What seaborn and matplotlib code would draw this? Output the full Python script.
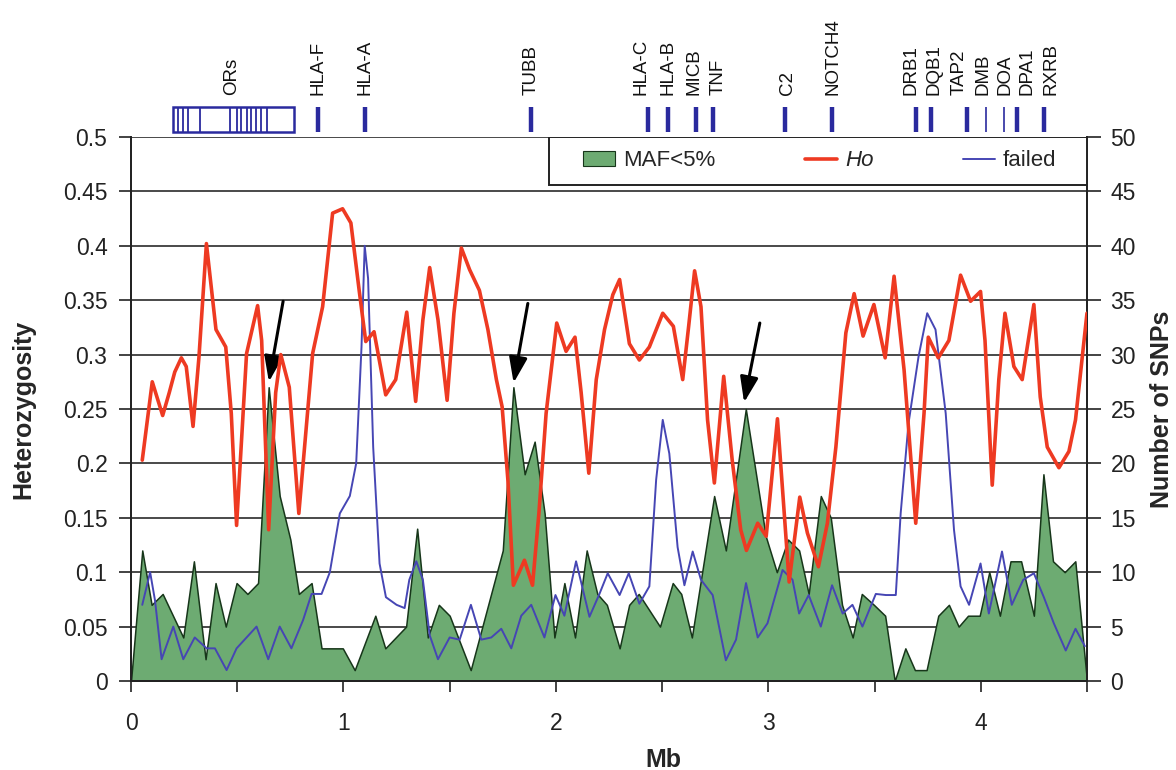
"""
Heterozygosity (Ho), low-MAF SNP counts and failed SNPs along the MHC region.
Left axis: Ho; right axis: number of SNPs. Gene positions are marked on top.
"""

import matplotlib

matplotlib.use("Agg")
import matplotlib.pyplot as plt
import seaborn as sns
from matplotlib.patches import Patch, Rectangle
from matplotlib.lines import Line2D

sns.set_style("ticks")
plt.rcParams["font.family"] = ["Liberation Sans", "DejaVu Sans"]

# ----------------------------------------------------------------------
# Data
# ----------------------------------------------------------------------
# MAF<5% SNP counts (right axis), vertices of the filled area
maf_mb = [0, 0.053, 0.097, 0.149, 0.246, 0.296, 0.351, 0.398, 0.446, 0.497,
          0.548, 0.598, 0.648, 0.70, 0.75, 0.79, 0.85, 0.897, 0.997, 1.053,
          1.15, 1.197, 1.295, 1.347, 1.397, 1.449, 1.50, 1.599, 1.75, 1.80,
          1.853, 1.90, 1.947, 1.993, 2.04, 2.09, 2.145, 2.195, 2.24, 2.30,
          2.345, 2.39, 2.44, 2.49, 2.55, 2.59, 2.64, 2.745, 2.80, 2.894,
          2.988, 3.04, 3.093, 3.145, 3.19, 3.247, 3.294, 3.347, 3.397, 3.44,
          3.497, 3.55, 3.595, 3.645, 3.69, 3.745, 3.80, 3.85, 3.896, 3.94,
          3.995, 4.04, 4.09, 4.14, 4.19, 4.25, 4.295, 4.34, 4.395, 4.445, 4.5]
maf_count = [0, 12, 7, 8, 4, 11, 2, 9, 5, 9,
             8, 9, 27, 17, 13, 8, 9, 3, 3, 1,
             6, 3, 5, 14, 4, 7, 6, 1, 12, 27,
             19, 22, 15.4, 4, 9, 4, 12, 8, 7, 3,
             7, 8, 6.5, 5, 9, 8, 4, 17, 12, 25,
             13.3, 10, 13, 12, 8, 17, 15, 7, 4, 8,
             7, 6, 0, 3, 1, 1, 6, 7, 5, 6,
             6, 10, 6, 11, 11, 6, 19, 11, 10, 11, 0]

# Observed heterozygosity Ho (left axis)
ho_mb = [0.053, 0.10, 0.149, 0.18, 0.206, 0.237, 0.26, 0.292, 0.32, 0.355,
         0.40, 0.446, 0.472, 0.497, 0.544, 0.596, 0.615, 0.648, 0.681, 0.705,
         0.745, 0.79, 0.855, 0.902, 0.949, 0.996, 1.035, 1.074, 1.105, 1.144,
         1.199, 1.246, 1.298, 1.34, 1.374, 1.406, 1.445, 1.488, 1.52, 1.555,
         1.594, 1.64, 1.68, 1.72, 1.747, 1.774, 1.80, 1.852, 1.89, 1.92,
         1.954, 2.004, 2.048, 2.09, 2.119, 2.155, 2.19, 2.229, 2.268, 2.30,
         2.346, 2.393, 2.44, 2.503, 2.553, 2.597, 2.625, 2.653, 2.683, 2.714,
         2.746, 2.79, 2.83, 2.87, 2.897, 2.95, 2.99, 3.043, 3.075, 3.098,
         3.148, 3.184, 3.236, 3.278, 3.318, 3.365, 3.404, 3.446, 3.497, 3.55,
         3.592, 3.639, 3.694, 3.733, 3.753, 3.80, 3.85, 3.905, 3.952, 3.999,
         4.02, 4.054, 4.085, 4.114, 4.156, 4.195, 4.25, 4.28, 4.313, 4.368,
         4.415, 4.446, 4.50]
ho_val = [0.203, 0.275, 0.244, 0.265, 0.284, 0.297, 0.289, 0.234, 0.298, 0.402,
          0.323, 0.307, 0.246, 0.143, 0.301, 0.345, 0.313, 0.139, 0.265, 0.300,
          0.270, 0.154, 0.301, 0.344, 0.430, 0.434, 0.421, 0.359, 0.312, 0.321,
          0.263, 0.277, 0.339, 0.257, 0.332, 0.380, 0.332, 0.258, 0.338, 0.398,
          0.378, 0.359, 0.323, 0.277, 0.252, 0.185, 0.088, 0.111, 0.088, 0.154,
          0.246, 0.329, 0.303, 0.316, 0.265, 0.191, 0.277, 0.323, 0.355, 0.369,
          0.310, 0.295, 0.307, 0.338, 0.326, 0.277, 0.326, 0.377, 0.344, 0.240,
          0.182, 0.280, 0.203, 0.139, 0.120, 0.145, 0.133, 0.241, 0.154, 0.091,
          0.169, 0.136, 0.105, 0.145, 0.215, 0.320, 0.356, 0.317, 0.346, 0.297,
          0.372, 0.286, 0.145, 0.246, 0.316, 0.297, 0.313, 0.373, 0.349, 0.358,
          0.313, 0.180, 0.277, 0.338, 0.289, 0.277, 0.346, 0.261, 0.215, 0.196,
          0.211, 0.240, 0.338]

# Failed SNPs (right axis)
failed_mb = [0.053, 0.09, 0.113, 0.144, 0.199, 0.246, 0.30, 0.356, 0.395, 0.45,
             0.497, 0.544, 0.591, 0.646, 0.70, 0.755, 0.81, 0.85, 0.897, 0.936,
             0.983, 1.03, 1.06, 1.085, 1.10, 1.116, 1.14, 1.17, 1.20, 1.25,
             1.288, 1.31, 1.343, 1.374, 1.406, 1.445, 1.50, 1.547, 1.60, 1.649,
             1.696, 1.743, 1.79, 1.837, 1.884, 1.946, 1.998, 2.04, 2.095, 2.158,
             2.205, 2.244, 2.30, 2.343, 2.393, 2.44, 2.472, 2.503, 2.534, 2.573,
             2.605, 2.644, 2.683, 2.738, 2.80, 2.848, 2.895, 2.95, 2.996, 3.067,
             3.114, 3.145, 3.19, 3.247, 3.30, 3.35, 3.396, 3.443, 3.506, 3.553,
             3.60, 3.623, 3.66, 3.707, 3.748, 3.787, 3.835, 3.874, 3.905, 3.945,
             3.999, 4.038, 4.10, 4.146, 4.20, 4.25, 4.297, 4.344, 4.40, 4.446,
             4.49]
failed_count = [7, 10, 7.4, 2, 5, 2, 4, 3, 3, 1,
                3, 4, 5, 2, 5, 3, 5.6, 8, 8, 10,
                15.4, 17, 20, 30.7, 40, 37, 21.5, 10.8, 7.7, 7,
                6.7, 9.3, 11, 9.3, 4.2, 2, 4, 3.8, 7, 3.8,
                4, 4.8, 3, 6, 7, 4, 7.9, 6, 11, 5.9,
                8, 9.9, 7.9, 9.9, 7.1, 8.7, 18.5, 24, 20.9, 12.3,
                8.8, 11.9, 9.3, 7.9, 1.9, 3.8, 9, 4, 5.3, 10.2,
                9.3, 6.2, 7.9, 5, 8.8, 6.2, 7, 5, 8, 7.9,
                7.9, 15.4, 23.7, 29.8, 33.8, 32.3, 24.6, 13.9, 8.7, 7,
                10.8, 6.2, 11.9, 7, 9.3, 9.9, 7.7, 5.3, 2.8, 4.8,
                3.2]

# Genes shown above the plot: marker position and label position (Mb)
gene_names = ["HLA-F", "HLA-A", "TUBB", "HLA-C", "HLA-B", "MICB", "TNF", "C2",
              "NOTCH4", "DRB1", "DQB1", "TAP2", "DMB", "DOA", "DPA1", "RXRB"]
gene_mb = [0.88, 1.10, 1.884, 2.432, 2.526, 2.66, 2.738, 3.08,
           3.30, 3.694, 3.764, 3.934, 4.026, 4.11, 4.17, 4.30]
gene_label_mb = [0.88, 1.10, 1.884, 2.40, 2.53, 2.65, 2.765, 3.09,
                 3.305, 3.67, 3.78, 3.90, 4.01, 4.115, 4.22, 4.33]
thin_genes = ["DMB", "DOA"]
ors_start, ors_end, ors_label_mb = 0.196, 0.766, 0.473
ors_lines = [0.222, 0.246, 0.27, 0.325, 0.466, 0.497, 0.52, 0.544,
             0.567, 0.59, 0.614, 0.638]

# Arrows pointing at the MAF<5% peaks (tail, head) in (Mb, Ho)
arrow_tails = [(0.716, 0.349), (1.868, 0.347), (2.96, 0.329)]
arrow_heads = [(0.649, 0.275), (1.801, 0.274), (2.886, 0.256)]

xticks = [0, 0.5, 1, 1.5, 2, 2.5, 3, 3.5, 4, 4.5]
ho_ticks = [0, 0.05, 0.1, 0.15, 0.2, 0.25, 0.3, 0.35, 0.4, 0.45, 0.5]
snp_ticks = [0, 5, 10, 15, 20, 25, 30, 35, 40, 45, 50]

GREEN = "#6dab72"
GREEN_EDGE = "#17361a"
RED = "#ee3a22"
BLUE = "#4646b4"
NAVY = "#2a2a9e"
INK = "#222222"

# ----------------------------------------------------------------------
# Figure
# ----------------------------------------------------------------------
fig = plt.figure(figsize=(11.76, 7.7), dpi=100)
ax = fig.add_axes([0.1114, 0.1156, 0.8129, 0.7065])   # counts (right axis)
ax2 = ax.twinx()                                        # Ho (left axis)

ax.set_axisbelow(True)
ax.fill_between(maf_mb, maf_count, 0, color=GREEN, edgecolor=GREEN_EDGE,
                lw=1.1, zorder=2)
sns.lineplot(x=failed_mb, y=failed_count, ax=ax, color=BLUE, lw=1.4,
             sort=False, errorbar=None, zorder=3)
sns.lineplot(x=ho_mb, y=ho_val, ax=ax2, color=RED, lw=2.6, sort=False,
             errorbar=None, solid_joinstyle="round", zorder=4)

for tail, head in zip(arrow_tails, arrow_heads):
    ax2.annotate("", xy=head, xytext=tail,
                 arrowprops=dict(arrowstyle="-|>,head_length=0.7,head_width=0.25",
                                 color="black", lw=2.2, mutation_scale=22,
                                 shrinkA=0, shrinkB=0))

# axes, ticks, grid
ax.set_xlim(0, 4.5)
ax.set_ylim(0, 50)
ax2.set_ylim(0, 0.5)
ax.set_xticks(xticks)
ax.set_xticklabels([f"{t:g}" if float(t).is_integer() else "" for t in xticks])
ax.set_yticks(snp_ticks)
ax2.set_yticks(ho_ticks)
ax2.set_yticklabels([f"{t:g}" for t in ho_ticks])
ax.grid(axis="y", color="#3a3a3a", lw=1.3)
ax.grid(axis="x", visible=False)

ax.yaxis.tick_right()
ax.yaxis.set_label_position("right")
ax2.yaxis.tick_left()
ax2.yaxis.set_label_position("left")

for a in (ax, ax2):
    a.spines["top"].set_visible(False)
    for s in ("left", "right", "bottom"):
        a.spines[s].set_color(INK)
        a.spines[s].set_linewidth(1.3)
ax.tick_params(axis="x", direction="out", length=8, width=1.2, pad=14,
               labelsize=16.5, colors=INK)
ax.tick_params(axis="y", direction="out", length=10, width=1.2, pad=7,
               labelsize=16.5, colors=INK)
ax2.tick_params(axis="y", direction="out", length=9, width=1.2, pad=8,
                labelsize=16.5, colors=INK)

ax.set_xlabel("Mb", fontsize=18, fontweight="bold")
ax.xaxis.set_label_coords(0.557, -0.123)
ax2.set_ylabel("Heterozygosity", fontsize=18, fontweight="bold")
ax2.yaxis.set_label_coords(-0.100, 0.5)
ax.set_ylabel("Number of SNPs", fontsize=18, fontweight="bold")
ax.yaxis.set_label_coords(1.066, 0.5)

# gene track above the axes
trans = ax2.get_xaxis_transform()
for name, mb, lab_mb in zip(gene_names, gene_mb, gene_label_mb):
    thin = name in thin_genes
    ax2.vlines(mb, 1.010, 1.055, transform=trans, color=NAVY,
               lw=1.2 if thin else 3.2, clip_on=False)
    ax2.text(lab_mb, 1.077, name, transform=trans, rotation=90, ha="center",
             va="bottom", fontsize=13.5, color="#111111")
ax2.add_patch(Rectangle((ors_start, 1.010), ors_end - ors_start, 0.045,
                        transform=trans, fill=False, ec=NAVY, lw=1.8,
                        clip_on=False))
ax2.vlines(ors_lines, 1.010, 1.055, transform=trans, color=NAVY, lw=1.3,
           clip_on=False)
ax2.text(ors_label_mb, 1.077, "ORs", transform=trans, rotation=90,
         ha="center", va="bottom", fontsize=13.5, color="#111111")

# legend: separate white box, entries spread inside it
box = Rectangle((0.437, 0.912), 0.563, 0.088, transform=ax2.transAxes,
                facecolor="white", edgecolor=INK, lw=1.4, zorder=9)
ax2.add_patch(box)
handles = [Patch(facecolor=GREEN, edgecolor=GREEN_EDGE, lw=0.8),
           Line2D([], [], color=RED, lw=2.6),
           Line2D([], [], color=BLUE, lw=1.4)]
leg = ax2.legend(handles, ["MAF<5%", "Ho", "failed"], ncol=3, mode="expand",
                 loc="center left", bbox_to_anchor=(0.473, 0.912, 0.495, 0.088),
                 borderaxespad=0, borderpad=0, fontsize=16, handlelength=1.45,
                 handletextpad=0.35, frameon=False)
leg.get_texts()[1].set_fontstyle("italic")
leg.set_zorder(10)

fig.savefig("out.png", dpi=100)
